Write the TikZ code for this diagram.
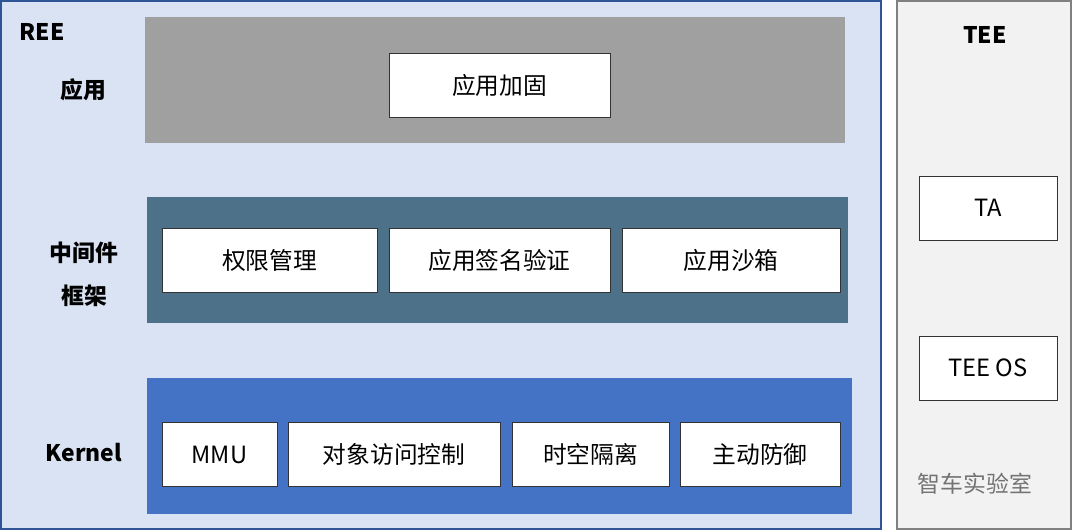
\documentclass[tikz,border=0pt]{standalone}
\usepackage{fontspec}
\setmainfont{Noto Sans CJK SC}
\usepackage{tikz}
\definecolor{reefill}{HTML}{DAE3F3}
\definecolor{reeline}{HTML}{2F5597}
\definecolor{appband}{HTML}{A0A0A0}
\definecolor{midband}{HTML}{4D7189}
\definecolor{kerband}{HTML}{4472C4}
\begin{document}
\begin{tikzpicture}[thick,
                item/.style={draw=black!80,fill=white,thin,font=\fontsize{13.5}{16}\selectfont,
                  minimum height=1.28cm,inner sep=0pt},
                layer/.style={font=\bfseries\fontsize{13}{16}\selectfont}]
                \useasboundingbox (0,0) rectangle (21.46,-10.62);
                % REE and TEE areas
                \draw[reeline,fill=reefill] (0.02,-0.02) rectangle (17.62,-10.58);
                \draw[gray,fill=black!5] (17.94,-0.02) rectangle (21.42,-10.58);
                \fill[appband] (2.90,-0.34) rectangle (16.90,-2.86);
                \fill[midband] (2.94,-3.94) rectangle (16.96,-6.46);
                \fill[kerband] (2.94,-7.56) rectangle (17.04,-10.28);
                
                \node[layer] (ree) at (0.84,-0.64) {REE};
                \node[layer] (tee) at (19.70,-0.70) {TEE};
                \node[layer] (app) at (1.66,-1.80) {应用};
                \node[layer] (mid) at (1.68,-5.06) {中间件};
                \node[layer] (frm) at (1.68,-5.92) {框架};
                \node[layer] (ker) at (1.68,-9.06) {Kernel};
                
                \node[item,minimum width=4.42cm] (harden) at (9.99,-1.70) {应用加固};
                \node[item,minimum width=4.30cm] (perm) at (5.39,-5.20) {权限管理};
                \node[item,minimum width=4.42cm] (sign) at (9.99,-5.21) {应用签名验证};
                \node[item,minimum width=4.36cm] (sandbox) at (14.62,-5.21) {应用沙箱};
                \node[item,minimum width=2.30cm] (mmu) at (4.39,-9.09) {MMU};
                \node[item,minimum width=4.24cm] (acl) at (7.88,-9.09) {对象访问控制};
                \node[item,minimum width=3.14cm] (iso) at (11.81,-9.09) {时空隔离};
                \node[item,minimum width=3.20cm] (def) at (15.20,-9.09) {主动防御};
                \node[item,minimum width=2.76cm] (ta) at (19.76,-4.16) {TA};
                \node[item,minimum width=2.76cm] (teeos) at (19.76,-7.36) {TEE OS};
                
                \node[text=black!55,font=\fontsize{13}{16}\selectfont] (mark) at (19.5,-9.68) {智车实验室};
                \end{tikzpicture}
\end{document}
